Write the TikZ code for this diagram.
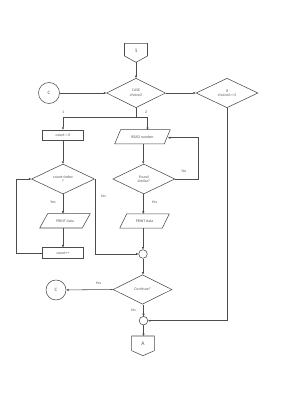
\documentclass[tikz,border=0pt]{standalone}
\usepackage{fontspec}
\setmainfont{Carlito}
\usetikzlibrary{shapes.geometric,arrows.meta}
\begin{document}
\begin{tikzpicture}[x=1pt,y=-1pt,line width=0.55pt,
  every node/.style={font=\fontsize{3.9}{4.6}\selectfont,text=black!65,inner sep=0pt},
  ln/.style={draw=black!70},
  arr/.style={ln,-{Triangle[length=2.4pt,width=2.1pt]}},
  dia/.style={diamond,ln,align=center},
  procbox/.style={rectangle,ln,minimum width=40.5pt,minimum height=10.7pt},
  iobox/.style={rectangle,minimum height=13.8pt},
  conncirc/.style={circle,ln,minimum size=21pt,font=\fontsize{5}{6}\selectfont},
  junc/.style={circle,ln,minimum size=8.6pt},
  lbl/.style={font=\fontsize{3.9}{4.6}\selectfont},
  pagetxt/.style={font=\fontsize{5.5}{6.5}\selectfont}]
\useasboundingbox[fill=white] (0,0) rectangle (283,400);

% off-page connector 1
\node[pagetxt] (c1) at (136,50.5) {1};
\draw[ln] (124.5,43.3) -- (147.5,43.3) -- (147.5,56) -- (136,62.3) -- (124.5,56) -- cycle;
\coordinate (c1b) at (136,62.3);

\node[dia,minimum width=59pt,minimum height=29.5pt] (case) at (136,93) {CASE\\choice2};
\node[dia,minimum width=62pt,minimum height=29.5pt] (if) at (227,93) {If\\choice2==3};
\node[conncirc] (ctop) at (49,93) {C};

\coordinate (br) at (136,117.7);
\coordinate (rdin) at (147.5,130);

\node[procbox] (count0) at (63,135.3) {count = 0};
\node[dia,minimum width=63pt,minimum height=30pt] (cmp) at (63,179) {count<index\\?};
\node[iobox,minimum width=50pt] (p1) at (65,220.8) {PRINT data};
\draw[ln] ([xshift=8pt]p1.north west) -- (p1.north east) -- ([xshift=-8pt]p1.south east) -- (p1.south west) -- cycle;
\node[procbox] (cpp) at (63,253) {count++};

\node[iobox,minimum width=55pt] (read) at (142.5,136.7) {READ number};
\draw[ln] ([xshift=6pt]read.north west) -- (read.north east) -- ([xshift=-6pt]read.south east) -- (read.south west) -- cycle;
\node[dia,minimum width=62pt,minimum height=30pt] (fs) at (143.8,179) {Found\\similar?};
\node[iobox,minimum width=49pt] (p2) at (144.5,221) {PRINT data};
\draw[ln] ([xshift=7pt]p2.north west) -- (p2.north east) -- ([xshift=-7pt]p2.south east) -- (p2.south west) -- cycle;
\coordinate (fsr) at (198,179);
\coordinate (rde) at (168,137.7);

\node[junc] (j1) at (143,254) {};
\node[dia,minimum width=59pt,minimum height=29.5pt] (cont) at (142.5,289.5) {Continue?};
\node[conncirc,minimum size=20pt] (cbot) at (56,290) {C};
\node[junc] (j2) at (143.5,320.7) {};

% off-page connector A
\node[pagetxt] (ca) at (143,344) {A};
\draw[ln] (131.7,336) -- (154.3,336) -- (154.3,350.7) -- (143,355.7) -- (131.7,350.7) -- cycle;
\coordinate (cat) at (143.5,336);

% connectors
\draw[arr] (c1b) -- (case.north);
\draw[arr] (ctop) -- (case.west);
\draw[arr] (case.east) -- (if.west);
\draw[ln] (case.south) -- (br);
\draw[arr] (br) -| (count0.north);
\draw[arr] (br) -| (rdin);
\node[lbl] (l1) at (63,112.5) {1};
\node[lbl] (l2) at (146,112) {2};

\draw[arr] (count0) -- (cmp.north);
\draw[arr] (cmp.south) -- (p1.north-|cmp.south);
\node[lbl] (ly1) at (53,202.5) {Yes};
\draw[arr] (p1.south-|cpp.north) -- (cpp.north);
\draw[arr] (cpp.west) -- ++(-26.7,0) |- (cmp.west);
\draw[arr] (cmp.east) |- (j1.west);
\node[lbl] (ln1) at (103.5,196) {No};

\draw[arr] (read.south-|143.3,0) -- (fs.north-|143.3,0);
\draw[arr] (fs.east) -- (fsr) |- (rde);
\node[lbl] (ln2) at (184,171) {No};
\draw[arr] (fs.south-|143.3,0) -- (p2.north-|143.3,0);
\node[lbl] (ly2) at (154.5,201.8) {Yes};
\draw[arr] (p2.south-|143,0) -- (j1.north);
\draw[arr] (j1) -- (cont.north-|j1);
\draw[arr] (cont.west) -- (cbot);
\node[lbl] (ly3) at (98.5,283.5) {Yes};
\draw[arr] (cont.south-|j2) -- (j2.north);
\node[lbl] (ln3) at (133.5,310) {No};
\draw[arr] (if.south) |- (j2.east);
\draw[arr] (j2) -- (cat);
\end{tikzpicture}
\end{document}
